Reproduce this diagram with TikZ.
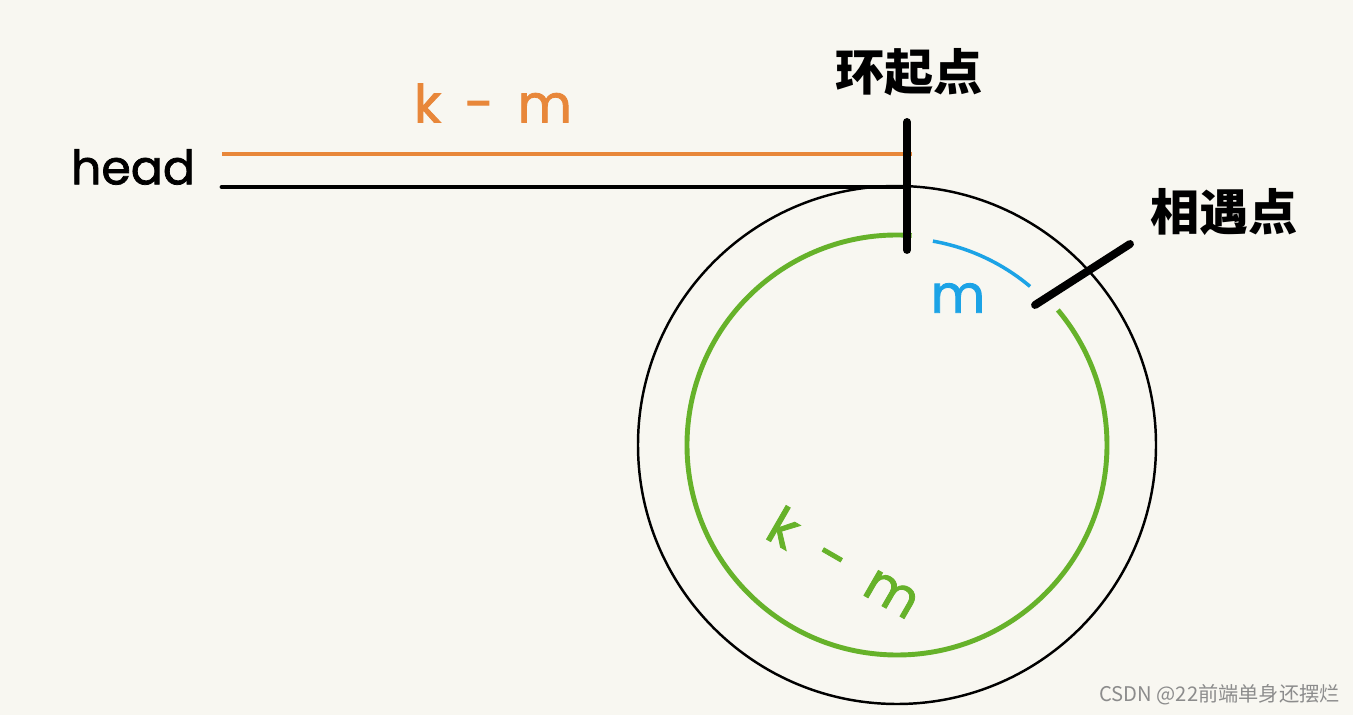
\documentclass[tikz,border=0pt]{standalone}
\usepackage{fontspec}
\setmainfont{Poppins}
\newfontfamily\heavy{Poppins}[FakeBold=1.6]
\newfontfamily\cjk{Noto Sans CJK SC}
\definecolor{paper}{HTML}{F8F7F1}
\definecolor{lineorange}{HTML}{E8873A}
\definecolor{loopgreen}{HTML}{66B22A}
\definecolor{meetblue}{HTML}{1CA3E6}
\tikzset{
    lbl/.style={inner sep=0pt, font=\heavy\fontsize{30}{30}\selectfont},
    cjklbl/.style={inner sep=0pt, font=\cjk\bfseries\fontsize{28}{28}\selectfont},
    tick/.style={line width=4.5pt, line cap=round},
}
\begin{document}
\begin{tikzpicture}[x=0.02cm, y=0.02cm]
\fill[paper] (0,0) rectangle (1353,-715);
\useasboundingbox (0,0) rectangle (1353,-715);

% the loop
\coordinate (ctr) at (897,-445);
\draw[line width=1.4pt] (ctr) circle (259);
\draw[loopgreen, line width=2.8pt] (ctr) ++(86:210) arc[start angle=86, end angle=400, radius=210];
\draw[meetblue, line width=2pt] (ctr) ++(80:207) arc[start angle=80, end angle=50, radius=207];

% the list before the loop
\node[lbl, font=\heavy\fontsize{27}{27}\selectfont] (head) at (133,-167) {head};
\coordinate (o1) at (222,-154);
\coordinate (o2) at (912,-154);
\coordinate (b1) at (222,-187);
\coordinate (b2) at (907,-187);
\draw[lineorange, line width=2.3pt] (o1)--(o2);
\draw[line width=2.8pt, line cap=round] (b1)--(b2);

% ticks
\coordinate (s1) at (907,-122);
\coordinate (s2) at (907,-250);
\draw[tick] (s1)--(s2);
\coordinate (m1) at (1035,-305);
\coordinate (m2) at (1130,-244);
\draw[tick] (m1)--(m2);

% labels
\node[lbl, text=lineorange] (kmtop) at (493,-103) {k\hspace{0.45em}-\hspace{0.45em}m};
\node[cjklbl] (start) at (909,-72) {环起点};
\node[cjklbl] (meet) at (1224,-212) {相遇点};
\node[lbl, text=meetblue] (mlbl) at (958,-298) {m};
\node[lbl, text=loopgreen, rotate=-30] (kmloop) at (845,-562) {k\ \ -\ \ m};
\node[inner sep=0pt, anchor=east, text=black!45, font=\cjk\fontsize{11.5}{11.5}\selectfont] (mark) at (1340,-695) {CSDN @22前端单身还摆烂};
\end{tikzpicture}
\end{document}
